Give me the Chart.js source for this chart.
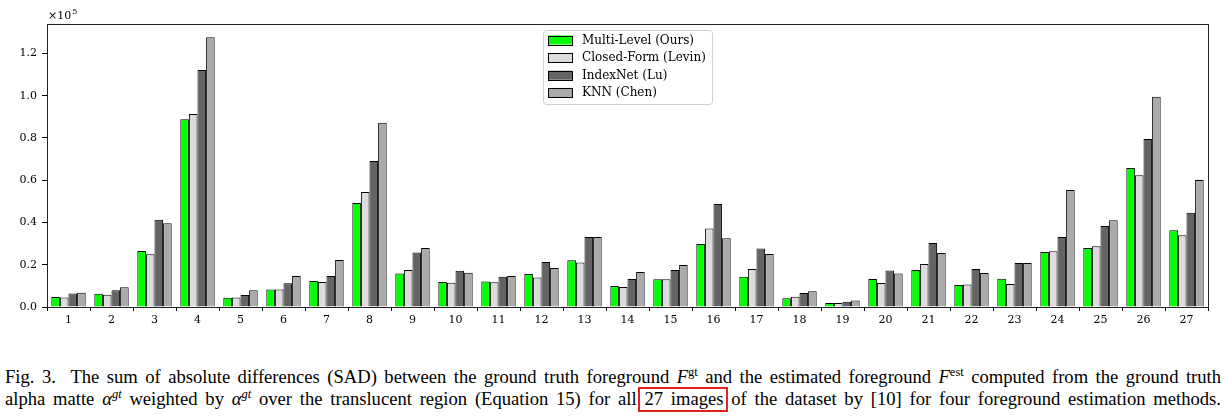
<!DOCTYPE html>
<html>
<head>
<meta charset="utf-8">
<script src="https://cdn.jsdelivr.net/npm/chart.js@4"></script>
<style>
  body { margin: 0; background: #fff; width: 1226px; height: 418px; overflow: hidden; position: relative; }
  #wrap { position: absolute; left: 0; top: 0; width: 1226px; height: 340px; }
  .cap { position: absolute; left: 5px; width: 1216px; font-family: "Liberation Serif", serif; font-size: 18.6px;
         line-height: 18px; text-align: justify; text-align-last: justify; color: #000; white-space: normal; }
  .cap sup { font-size: 12.5px; line-height: 0; vertical-align: 7px; }
  .box { position: relative; }
  .box::after { content: ""; position: absolute; left: -6px; right: -5px; top: -1px; bottom: -3px; border: 2px solid #e3211f; }
</style>
</head>
<body>
<div id="wrap"><canvas id="myChart"></canvas></div>
<div class="cap" style="top:368px">Fig. 3.&nbsp; The sum of absolute differences (SAD) between the ground truth foreground <i>F</i><sup>gt</sup> and the estimated foreground <i>F</i><sup>est</sup> computed from the ground truth</div>
<div class="cap" style="top:390px">alpha matte <i>α</i><sup><i>gt</i></sup> weighted by <i>α</i><sup><i>gt</i></sup> over the translucent region (Equation 15) for all <span class="box">27 images</span> of the dataset by [10] for four foreground estimation methods.</div>
<script>
const imagens = ["1","2","3","4","5","6","7","8","9","10","11","12","13","14","15","16","17","18","19","20","21","22","23","24","25","26","27"];
const multiLevel = [4700,6300,26500,88800,4400,8300,12300,49200,15800,11800,12100,15600,22100,9900,13100,29800,14300,4100,1900,13200,17500,10400,13400,26000,27900,65800,36300];
const closedForm = [4500,5800,24900,91300,4500,8300,11800,54400,17500,11500,11700,13900,21100,9500,13100,37200,18000,4900,1900,11400,20300,10600,10900,26400,28700,62300,33900];
const indexNet = [6400,7900,41300,112100,5700,11200,14700,69100,25800,17200,14300,21300,33100,13200,17500,48700,27700,6600,2500,17300,30300,18000,20800,33100,38300,79500,44600];
const knn = [6800,9300,39600,127600,7900,14700,22200,87200,27900,16200,14700,18500,33100,16600,19900,32500,25100,7400,3100,15800,25600,16100,20800,55400,41000,99500,60100];
const nomes = ["Multi-Level (Ours)", "Closed-Form (Levin)", "IndexNet (Lu)", "KNN (Chen)"];
const cores = ["#00ff00", "#dcdcdc", "#646464", "#aaaaaa"];
const yTicks = [0, 20000, 40000, 60000, 80000, 100000, 120000];
const yMax = 133900;

const fonte = { family: "DejaVu Serif", size: 11 };

// moldura + legenda + "x10^5"
const extras = {
  id: "extras",
  afterDraw(chart) {
    const ctx = chart.ctx;
    const a = chart.chartArea;
    ctx.save();
    ctx.strokeStyle = "#222";
    ctx.lineWidth = 1;
    ctx.strokeRect(Math.round(a.left) + 0.5, Math.round(a.top) + 0.5, Math.round(a.right - a.left), Math.round(a.bottom - a.top));

    ctx.fillStyle = "#000";
    ctx.font = "11px 'DejaVu Serif'";
    ctx.textBaseline = "alphabetic";
    ctx.fillText("\u00d710", a.left + 1, a.top - 5);
    const w = ctx.measureText("\u00d710").width;
    ctx.font = "8px 'DejaVu Serif'";
    ctx.fillText("5", a.left + 1 + w + 1, a.top - 10);

    // legenda
    const lx = 543, ly = 30, lw = 169, lh = 74;
    ctx.beginPath();
    ctx.roundRect(lx + 0.5, ly + 0.5, lw, lh, 3);
    ctx.fillStyle = "rgba(255,255,255,0.8)";
    ctx.fill();
    ctx.strokeStyle = "#d0d0d0";
    ctx.stroke();
    ctx.font = "12px 'DejaVu Serif'";
    ctx.textBaseline = "middle";
    chart.data.datasets.forEach((ds, i) => {
      const cy = 40 + i * 17.6;
      ctx.fillStyle = ds.backgroundColor;
      ctx.fillRect(548, cy - 4.5, 24, 9);
      ctx.strokeStyle = "#000";
      ctx.strokeRect(548.5, Math.round(cy - 4.5) + 0.5, 24, 9);
      ctx.fillStyle = "#000";
      ctx.fillText(ds.label, 582, cy + 0.5);
    });
    ctx.restore();
  }
};

const ctx = document.querySelector("#myChart").getContext("2d");

let data = {
  labels: imagens,
  datasets: [multiLevel, closedForm, indexNet, knn].map((valores, i) => ({
    label: nomes[i],
    data: valores,
    backgroundColor: cores[i],
    borderColor: "#000",
    borderWidth: 1,
    borderSkipped: "bottom",
    categoryPercentage: 0.8,
    barPercentage: 1.0,
  })),
};

let options = {
  responsive: false,
  animation: false,
  layout: { padding: { top: 24, right: 18, left: 0, bottom: 0 } },
  plugins: { legend: { display: false }, tooltip: { enabled: false } },
  scales: {
    x: {
      offset: true,
      grid: { display: true, drawOnChartArea: false, drawTicks: true, tickLength: 4, color: "#000" },
      border: { display: true, color: "#222" },
      ticks: { font: fonte, color: "#000", padding: 3, maxRotation: 0, autoSkip: false },
      afterFit(scale) { scale.height = 33; },
    },
    y: {
      min: 0,
      max: yMax,
      grid: { display: true, drawOnChartArea: false, drawTicks: true, tickLength: 5, color: "#000" },
      border: { display: true, color: "#222" },
      ticks: { font: fonte, color: "#000", padding: 5, callback: (v) => (v / 100000).toFixed(1) },
      afterBuildTicks(scale) { scale.ticks = yTicks.map((v) => ({ value: v })); },
      afterFit(scale) { scale.width = 47; },
    },
  },
};

const canvas = document.querySelector("#myChart");
canvas.width = 1226;
canvas.height = 340;

let myChart = new Chart(ctx, {
  type: "bar",
  data: data,
  options: options,
  plugins: [extras],
});
</script>
</body>
</html>
